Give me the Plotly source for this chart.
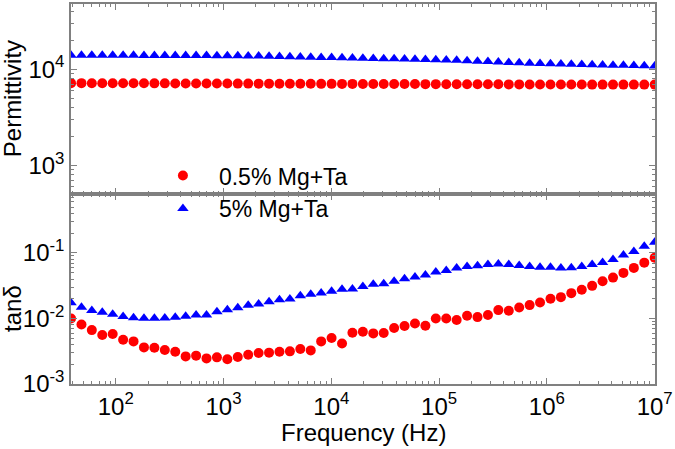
import plotly.graph_objects as go
from plotly.subplots import make_subplots

freq_hz = [38.5, 48.1, 60.0, 75.0, 93.7, 117.1, 146.3, 182.8, 228.4, 285.3,
           356.5, 445.4, 556.5, 695.3, 868.7, 1085, 1356, 1694, 2117, 2645,
           3304, 4128, 5158, 6444, 8051, 10060, 12570, 15700, 19620, 24510,
           30620, 38260, 47800, 59720, 74620, 93220, 116500, 145500, 181800, 227200,
           283800, 354600, 443000, 553500, 691600, 864000, 1080000, 1349000, 1685000, 2106000,
           2630000, 3286000, 4106000, 5130000, 6409000, 8007000, 10000000]

perm_05 = [7150, 7150, 7140, 7140, 7130, 7130, 7120, 7120, 7110, 7110,
           7100, 7100, 7090, 7090, 7080, 7080, 7070, 7070, 7060, 7060,
           7050, 7050, 7040, 7040, 7030, 7030, 7020, 7020, 7010, 7010,
           7000, 7000, 6990, 6990, 6980, 6980, 6970, 6970, 6960, 6960,
           6950, 6950, 6940, 6940, 6930, 6930, 6920, 6920, 6910, 6910,
           6905, 6905, 6900, 6900, 6900, 6900, 6900]

perm_5 = [13950, 13940, 13930, 13920, 13910, 13900, 13890, 13880, 13870, 13860,
          13850, 13840, 13830, 13820, 13800, 13780, 13760,
          13700, 13640, 13570, 13500, 13430, 13370, 13300, 13230, 13160, 13090,
          13020, 12960, 12890, 12830, 12770, 12700, 12630, 12560, 12500,
          12450, 12320, 12210, 12090, 11980, 11860, 11740, 11630, 11510, 11400,
          11340, 11280, 11230, 11170, 11110, 11050, 10990, 10940, 10890, 10840, 10790]

tand_05 = [0.0100, 0.0081, 0.00665, 0.00558, 0.00578, 0.00474, 0.00447, 0.00362, 0.00358, 0.00330,
           0.00311, 0.00264, 0.00271, 0.00246, 0.00255, 0.00238, 0.00258, 0.00280, 0.00297, 0.00301,
           0.00311, 0.00315, 0.00342, 0.00326, 0.00447, 0.00503, 0.00416, 0.00605, 0.00628, 0.00592,
           0.00600, 0.00715, 0.00766, 0.00839, 0.00775, 0.0100, 0.0100, 0.00946, 0.01099, 0.01050,
           0.01127, 0.01343, 0.01310, 0.01470, 0.01600, 0.01753, 0.01995, 0.02118, 0.02437, 0.02737,
           0.03148, 0.03707, 0.04206, 0.04963, 0.05915, 0.07114, 0.08476]

tand_5 = [0.0174, 0.0148, 0.0132, 0.0125, 0.0116, 0.0107, 0.0103, 0.0101, 0.0101, 0.0102,
          0.0104, 0.0108, 0.0113, 0.0113, 0.0127, 0.0136, 0.0146, 0.0159, 0.0166, 0.0180,
          0.0193, 0.0198, 0.0223, 0.0234, 0.0245, 0.0260, 0.0279, 0.0281, 0.0309, 0.0332,
          0.0339, 0.0369, 0.0404, 0.0429, 0.0460, 0.0511, 0.0542, 0.0588, 0.0624, 0.0637,
          0.0669, 0.0677, 0.0669, 0.0646, 0.0624, 0.0603, 0.0603, 0.0588, 0.0593, 0.0624,
          0.0669, 0.0718, 0.0797, 0.0927, 0.1056, 0.1271, 0.1462]

series_names = ["0.5% Mg+Ta", "5% Mg+Ta"]
series_colors = ["#ff0000", "#0000ff"]

x_tickvals = [1e2, 1e3, 1e4, 1e5, 1e6, 1e7]
x_ticktext = ["10<sup>2</sup>", "10<sup>3</sup>", "10<sup>4</sup>", "10<sup>5</sup>", "10<sup>6</sup>", "10<sup>7</sup>"]
perm_tickvals = [1e3, 1e4]
perm_ticktext = ["10<sup>3</sup>", "10<sup>4</sup>"]
tand_tickvals = [1e-3, 1e-2, 1e-1]
tand_ticktext = ["10<sup>-3</sup>", "10<sup>-2</sup>", "10<sup>-1</sup>"]

FONT = "Liberation Sans, Arial, sans-serif"
AX = "#808080"

fig = make_subplots(rows=2, cols=1, shared_xaxes=True, vertical_spacing=0)

fig.add_trace(go.Scatter(x=freq_hz, y=perm_05, mode="markers", name=series_names[0],
                         legendgroup="a",
                         marker=dict(symbol="circle", size=10, color=series_colors[0])), row=1, col=1)
fig.add_trace(go.Scatter(x=freq_hz, y=perm_5, mode="markers", name=series_names[1],
                         legendgroup="b",
                         marker=dict(symbol="triangle-up", size=10, color=series_colors[1])), row=1, col=1)
fig.add_trace(go.Scatter(x=freq_hz, y=tand_05, mode="markers", name=series_names[0],
                         legendgroup="a", showlegend=False,
                         marker=dict(symbol="circle", size=10, color=series_colors[0])), row=2, col=1)
fig.add_trace(go.Scatter(x=freq_hz, y=tand_5, mode="markers", name=series_names[1],
                         legendgroup="b", showlegend=False,
                         marker=dict(symbol="triangle-up", size=10, color=series_colors[1])), row=2, col=1)

minor = dict(ticks="inside", ticklen=3.5, tickcolor=AX, tickwidth=1, dtick="D1", showgrid=False)
common = dict(type="log", showline=True, linecolor=AX, linewidth=1.5, mirror="allticks",
              ticks="inside", ticklen=6, tickcolor=AX, tickwidth=1, showgrid=False, zeroline=False,
              tickfont=dict(family=FONT, size=24, color="black"), minor=minor)

fig.update_xaxes(range=[1.585, 7.003], tickvals=x_tickvals, ticktext=x_ticktext, **common)
fig.update_xaxes(showticklabels=False, row=1, col=1)
fig.update_yaxes(range=[2.703, 4.676], tickvals=perm_tickvals, ticktext=perm_ticktext,
                 row=1, col=1, **common)
fig.update_yaxes(range=[-3.0, -0.1], tickvals=tand_tickvals, ticktext=tand_ticktext,
                 row=2, col=1, **common)

fig.update_layout(
    width=675, height=449,
    margin=dict(l=71, r=18, t=2, b=65),
    paper_bgcolor="white", plot_bgcolor="white",
    font=dict(family=FONT, color="black"),
    showlegend=True,
    legend=dict(x=0.13, y=0.605, xanchor="left", yanchor="top", bgcolor="rgba(0,0,0,0)",
                font=dict(family=FONT, size=23, color="black"), itemwidth=62,
                tracegroupgap=0),
    annotations=[
        dict(text="Permittivity", xref="paper", yref="paper", x=-0.1, y=0.751,
             textangle=-90, showarrow=False, xanchor="center", yanchor="middle",
             font=dict(family=FONT, size=24, color="black")),
        dict(text="tanδ", xref="paper", yref="paper", x=-0.1, y=0.199,
             textangle=-90, showarrow=False, xanchor="center", yanchor="middle",
             font=dict(family=FONT, size=24, color="black")),
        dict(text="Frequency (Hz)", xref="paper", yref="paper", x=0.5, y=-0.128,
             showarrow=False, xanchor="center", yanchor="middle",
             font=dict(family=FONT, size=24, color="black")),
    ],
)

fig.write_html("out.html", config={"displayModeBar": False},
               post_script="document.body.style.margin='0px';")
